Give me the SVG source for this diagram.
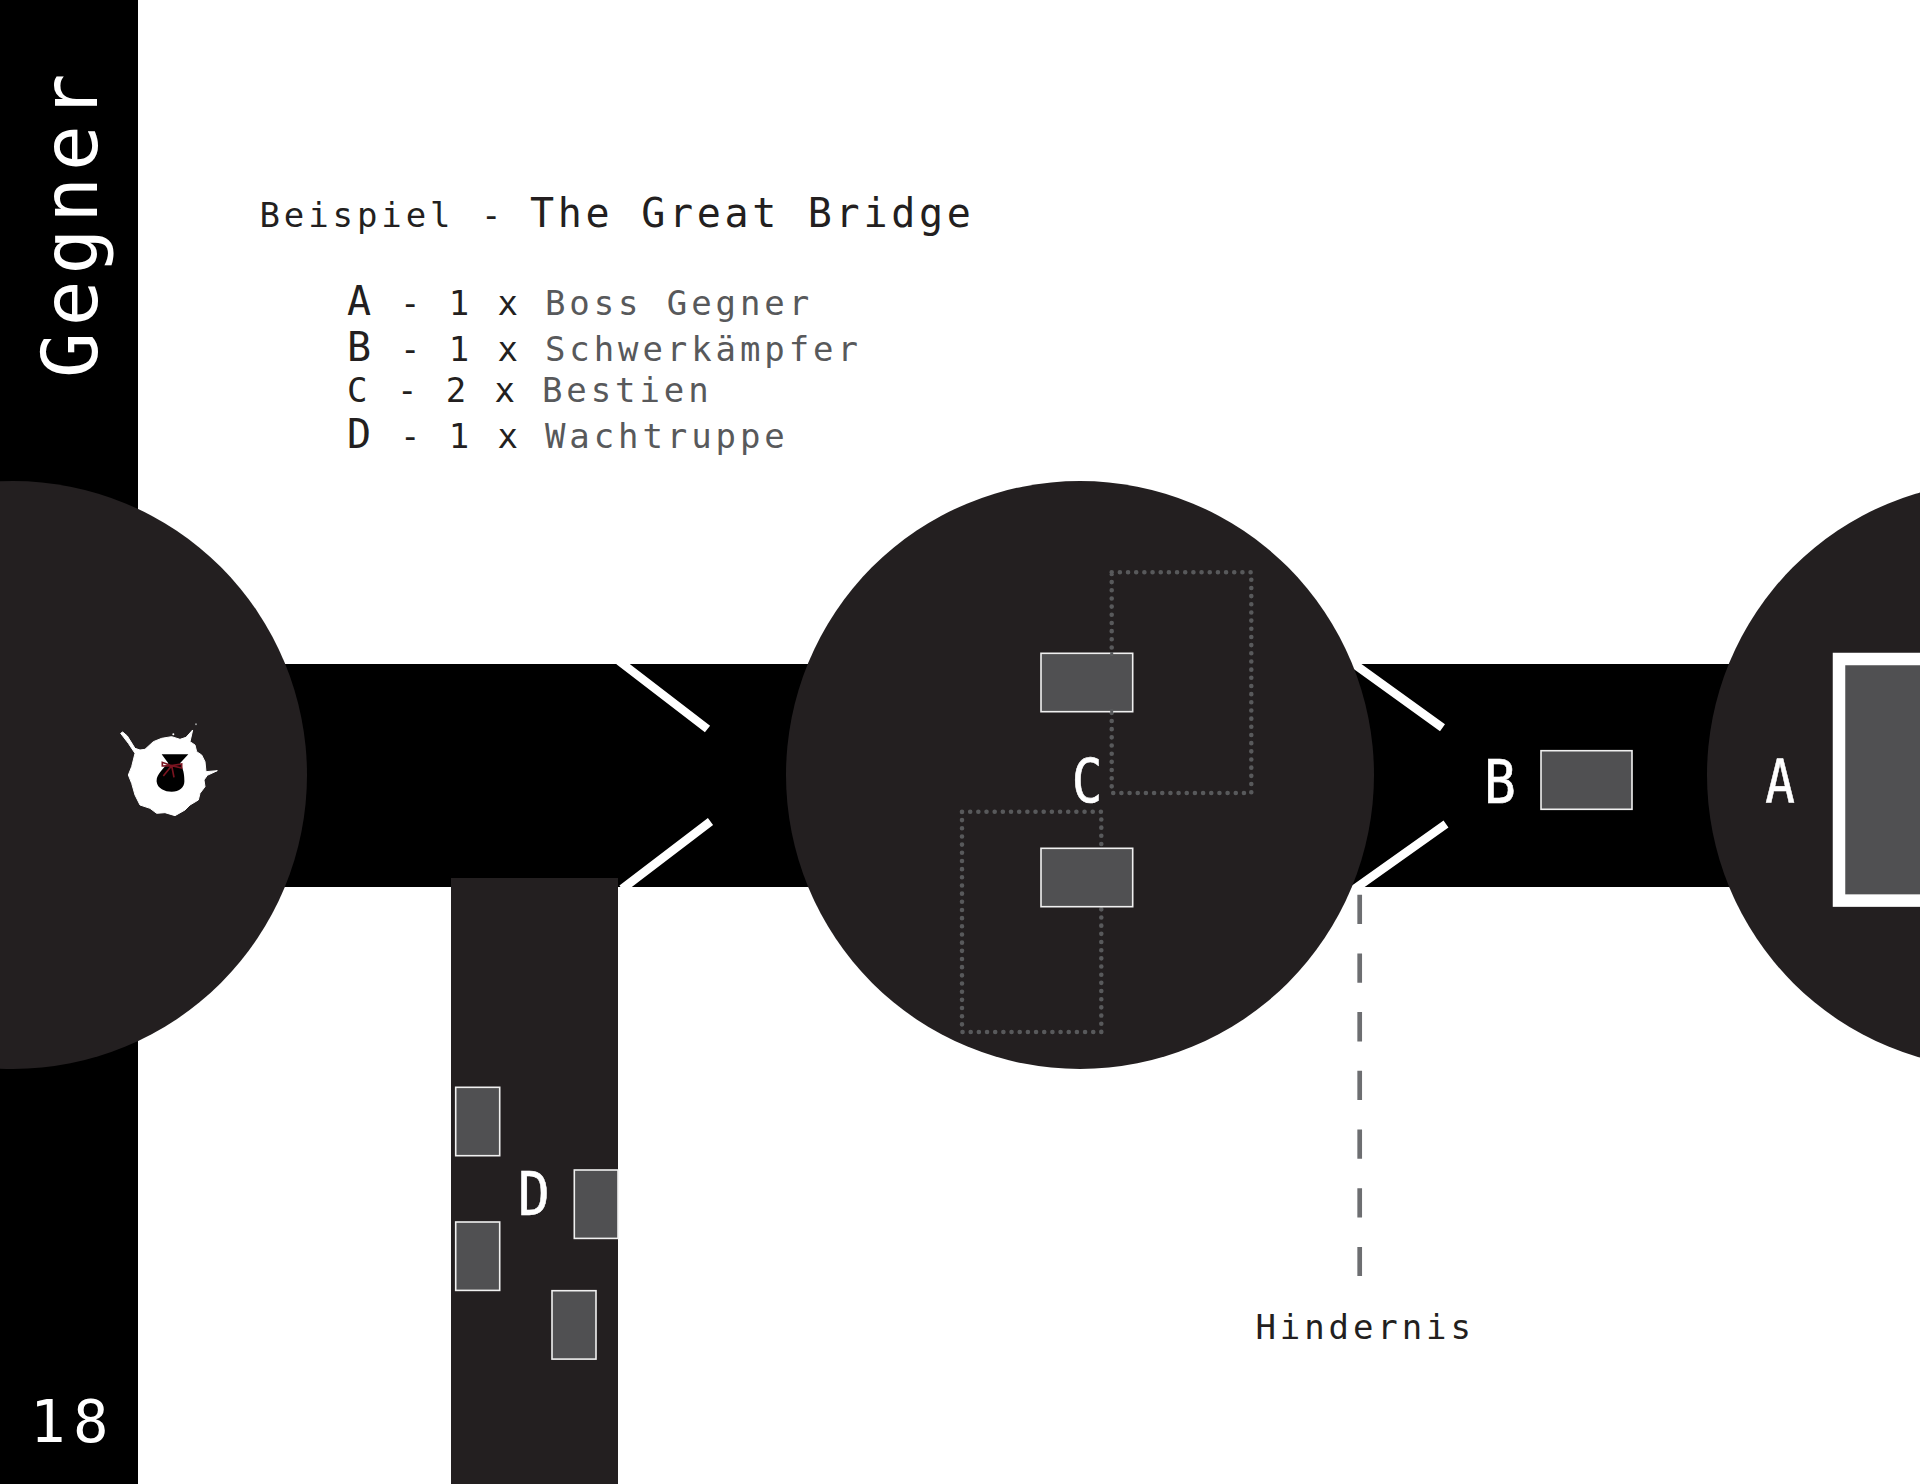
<svg xmlns="http://www.w3.org/2000/svg" width="1920" height="1484" viewBox="0 0 1920 1484">
<style>
text{font-family:"DejaVu Sans Mono","Liberation Mono",monospace}
.s{font-size:34px;letter-spacing:3.9px}
.b{font-size:40px}
.d{fill:#231f20}
.g{fill:#58595b}
.w{fill:#fff}
.mob{fill:#505052;stroke:#f0f0f0;stroke-width:1.6}
.area{fill:#231f20}
.gate{stroke:#fff;stroke-width:8.5;fill:none}
.dots{fill:none;stroke:#58595b;stroke-width:4.6;stroke-linecap:round;stroke-dasharray:0 8.17}
.lbl{font-size:60px;fill:#fff;stroke:#fff;stroke-width:.6;text-anchor:middle}
</style>
<rect width="1920" height="1484" fill="#fff"/>
<rect id="sidebar" width="138" height="1484" fill="#000"/>
<text id="title-side" class="w" transform="translate(97 378) rotate(-90)" font-size="76" letter-spacing="6">Gegner</text>
<text id="page" class="w" x="30" y="1442" font-size="59" letter-spacing="7.5">18</text>
<g id="heading">
<text class="s d" x="259.500" y="227">Beispiel</text>
<text class="s d" x="481" y="227">-</text>
<text class="b d" x="530" y="227" letter-spacing="3.7">The Great Bridge</text>
</g>
<g id="legend">
<text class="b d" x="347" y="315">A</text><text class="s d" x="400" y="315">- 1 x</text><text class="s g" x="545" y="315">Boss Gegner</text>
<text class="b d" x="347" y="361">B</text><text class="s d" x="400" y="361">- 1 x</text><text class="s g" x="545" y="361">Schwerkämpfer</text>
<text class="s d" x="347" y="402">C</text><text class="s d" x="397" y="402">- 2 x</text><text class="s g" x="542" y="402">Bestien</text>
<text class="b d" x="347" y="448">D</text><text class="s d" x="400" y="448">- 1 x</text><text class="s g" x="545" y="448">Wachtruppe</text>
</g>
<g id="connectors">
<rect id="bridge" x="138" y="664" width="1700" height="223" fill="#000"/>
<rect id="side-road" class="area" x="451" y="878" width="167" height="606"/>
<path class="gate" d="M619 661L707.500 729M622 889L710.500 821.500M1343 656L1442.500 727.700M1346 895L1446 824"/>
<path id="hindernis-line" d="M1359.700 894.700V1276" fill="none" stroke="#6d6e71" stroke-width="4.700" stroke-dasharray="29.300 29.400"/>
</g>
<g id="room-left">
<circle class="area" cx="13" cy="775" r="294"/>
<g id="blot" transform="translate(100 700) scale(.3333)">
<path fill="#fff" stroke="#fff" stroke-width="3" stroke-linejoin="round" d="M62 100L68 96L82 108L105 145L120 150L135 148L160 125L185 115L215 110L240 118L258 112L278 90L270 125L285 135L290 155L305 165L315 185L318 215L352 212L322 226L312 240L315 260L300 280L295 300L270 315L255 330L225 347L195 338L170 340L150 325L120 315L105 285L95 250L85 225L95 200L100 180L105 160L85 130Z"/>
<circle cx="220" cy="103" r="3" fill="#fff"/>
<circle cx="288" cy="73" r="3" fill="#999"/>
<path fill="#000" d="M185 163H265L240 190C250 205 253 225 253 240C255 260 240 275 215 275C195 275 172 265 170 245C168 225 190 205 205 190Z"/>
<path fill="none" stroke="#7a1420" stroke-width="5" d="M215 197L187 187L187 198L215 197L245 192L245 204L215 197L190 228M215 197L222 232"/>
</g>
</g>
<g id="room-mid">
<circle class="area" cx="1080" cy="775" r="294"/>
<path class="dots" d="M1111.700 572.300H1251.300V793H1111.700Z"/>
<path class="dots" d="M962 811.700H1101.300V1032H962Z"/>
<rect class="mob" x="1041" y="653.300" width="91.700" height="58.400"/>
<rect class="mob" x="1041" y="848.300" width="91.700" height="58.400"/>
<path d="M1111.700 652V656M1111.700 709V713" stroke="#58595b" stroke-width="3"/>
<text class="lbl" transform="translate(1087 801.500) scale(.85 1)">C</text>
</g>
<g id="room-right">
<circle class="area" cx="2001" cy="775" r="294"/>
<rect x="1839" y="659" width="120" height="241.600" fill="#505052" stroke="#fff" stroke-width="12.500"/>
<text class="lbl" transform="translate(1780 802.700) scale(.82 1)">A</text>
</g>
<g id="mob-b">
<rect class="mob" x="1541" y="750.700" width="91" height="58.600"/>
<text class="lbl" transform="translate(1500 802.700) scale(.88 1)">B</text>
</g>
<g id="mobs-d">
<rect class="mob" x="455.700" y="1087.300" width="44" height="68.400"/>
<rect class="mob" x="455.700" y="1222" width="44" height="68.400"/>
<rect class="mob" x="574.300" y="1170" width="43.700" height="68.400"/>
<rect class="mob" x="552" y="1290.700" width="44" height="68.400"/>
<text class="lbl" transform="translate(534 1215) scale(.88 1)">D</text>
</g>
<text id="hindernis" class="s d" x="1255.500" y="1339">Hindernis</text>
</svg>
